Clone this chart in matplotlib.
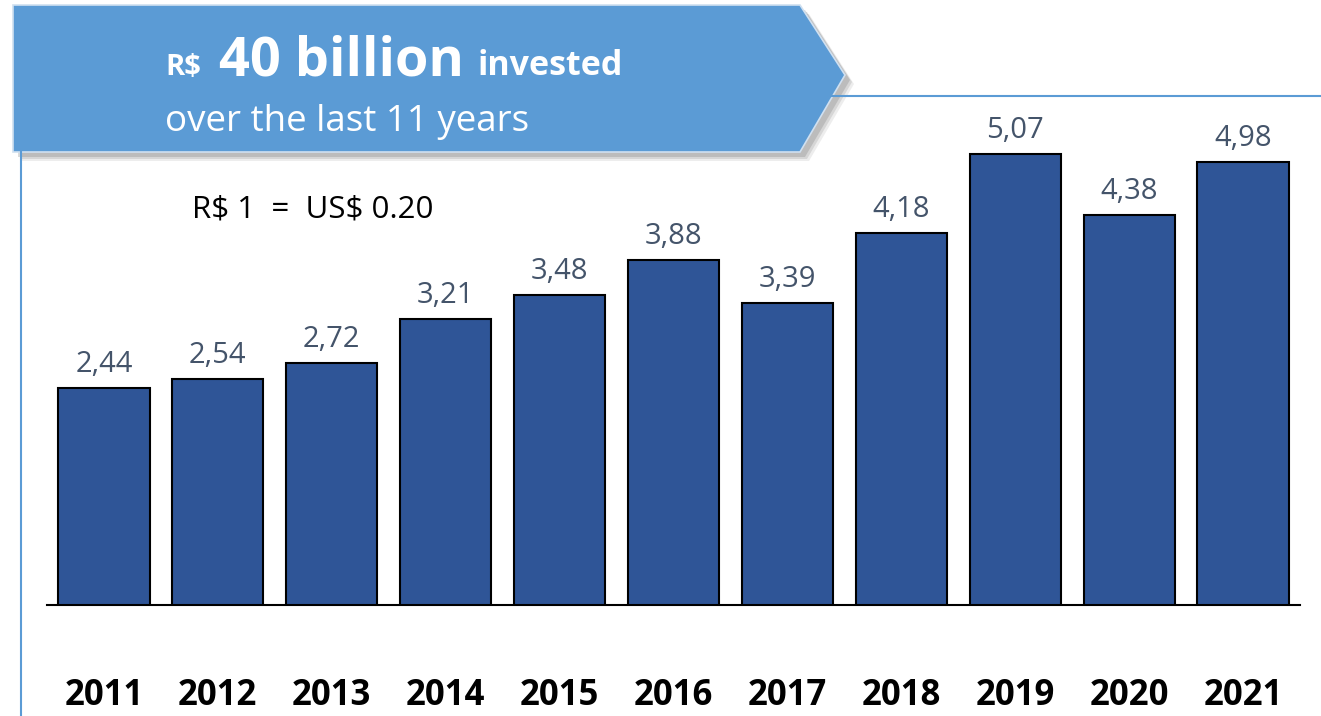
import matplotlib
matplotlib.use("Agg")
import matplotlib.pyplot as plt
from matplotlib.patches import Polygon
from matplotlib.lines import Line2D
from matplotlib.transforms import blended_transform_factory

years = ["2011", "2012", "2013", "2014", "2015", "2016", "2017", "2018", "2019", "2020", "2021"]
values = [2.44, 2.54, 2.72, 3.21, 3.48, 3.88, 3.39, 4.18, 5.07, 4.38, 4.98]
value_labels = ["2,44", "2,54", "2,72", "3,21", "3,48", "3,88", "3,39", "4,18", "5,07", "4,38", "4,98"]

W, H = 1321, 716
plt.rcParams['font.family'] = ['Open Sans', 'DejaVu Sans']
plt.rcParams['text.parse_math'] = False
fig = plt.figure(figsize=(W / 100, H / 100), dpi=100)

def fx(x):
    return x / W

def fy(y):
    return 1 - y / H

# axes in pixel layout
ax_left, ax_right, ax_bottom, ax_top = 47, 1300, 605, 100
ax = fig.add_axes([fx(ax_left), fy(ax_bottom), (ax_right - ax_left) / W, (ax_bottom - ax_top) / H])
px_per_unit = 89.0
ax.set_xlim(-0.5, len(years) - 0.5)
ax.set_ylim(0, (ax_bottom - ax_top) / px_per_unit)
ax.bar(range(len(years)), values, width=0.8, color="#2F5597", edgecolor="black", linewidth=1.5, zorder=3)
for i, (v, lab) in enumerate(zip(values, value_labels)):
    ax.text(i, v + 16 / px_per_unit, lab, ha="center", va="baseline", fontsize=21, color="#44546A")
for s in ["top", "right", "left"]:
    ax.spines[s].set_visible(False)
ax.spines["bottom"].set_linewidth(1.5)
ax.spines["bottom"].set_color("black")
ax.set_yticks([])
ax.set_xticks([])
ax.patch.set_alpha(0)

trans = blended_transform_factory(ax.transData, fig.transFigure)
for i, yr in enumerate(years):
    ax.text(i, fy(705), yr, transform=trans, ha="center", va="baseline",
            fontsize=25, fontweight="bold", color="black", clip_on=False)

# decorative lines
fig.add_artist(Line2D([fx(21), fx(21)], [fy(150), fy(716)], color="#5B9BD5", linewidth=1.5))
fig.add_artist(Line2D([fx(820), fx(1321)], [fy(96), fy(96)], color="#5B9BD5", linewidth=1.5))

# banner shadow
for k, a in [(9, 0.12), (7, 0.18), (5, 0.25)]:
    shadow = Polygon([(fx(13 + k), fy(5 + k)), (fx(800 + k), fy(5 + k)), (fx(845 + k), fy(75 + k)),
                      (fx(800 + k), fy(152 + k)), (fx(13 + k), fy(152 + k))],
                     closed=True, facecolor="#707070", edgecolor="none", alpha=a, transform=fig.transFigure)
    fig.add_artist(shadow)
banner = Polygon([(fx(13), fy(5)), (fx(800), fy(5)), (fx(845), fy(75)), (fx(800), fy(152)), (fx(13), fy(152))],
                 closed=True, facecolor="#5B9BD5", edgecolor="#d0e0f0", linewidth=1.2, transform=fig.transFigure)
fig.add_artist(banner)

fig.text(fx(165), fy(75), "R$", fontsize=21, fontweight="bold", color="white", va="baseline", ha="left")
fig.text(fx(219), fy(75), "40 billion", fontsize=39, fontweight="bold", color="white", va="baseline", ha="left")
fig.text(fx(478), fy(75), "invested", fontsize=24.5, fontweight="bold", color="white", va="baseline", ha="left")
fig.text(fx(165), fy(131), "over the last 11 years", fontsize=26.5, color="white", va="baseline", ha="left")

fig.text(fx(192), fy(217), "R$ 1  =  US$ 0.20", fontsize=22.5, color="black", va="baseline", ha="left")

fig.savefig("out.png", dpi=100)
